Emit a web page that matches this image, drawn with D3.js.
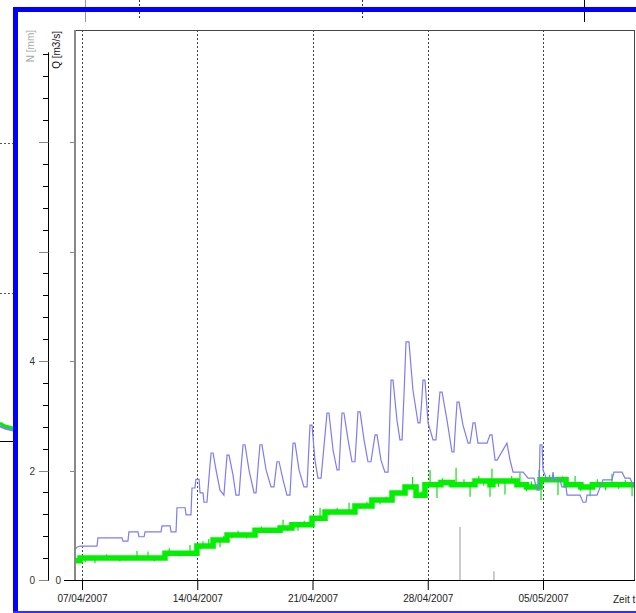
<!DOCTYPE html>
<html>
<head>
<meta charset="utf-8">
<script src="https://cdn.jsdelivr.net/npm/d3@7"></script>
<style>
  body { margin: 0; background: #fff; }
  text { font-family: "Liberation Sans", Arial, sans-serif; }
</style>
</head>
<body>
<script>
// Window size
var WIDTH = 636;
var HEIGHT = 613;

// Q [m3/s] - discharge, [day offset from 07/04/2007, value]
var qSeries = [[-0.43,0.55],[-0.30,0.60],[-0.12,0.62],[0.91,0.62],[0.97,0.77],[2.43,0.77],[2.49,0.71],[2.79,0.71],[2.85,0.88],[3.40,0.88],[3.46,0.79],[3.77,0.79],[3.83,0.88],[4.80,0.88],[4.86,0.99],[5.35,0.99],[5.41,0.88],[5.71,0.88],[5.77,1.32],[6.26,1.32],[6.32,1.19],[6.62,1.19],[6.68,1.68],[6.86,1.68],[6.92,1.84],[7.11,1.84],[7.17,1.59],[7.35,1.59],[7.41,1.42],[7.59,1.42],[7.72,1.90],[7.84,2.32],[7.96,2.32],[8.14,2.01],[8.38,1.64],[8.62,1.55],[8.72,1.95],[8.81,2.28],[8.93,2.28],[9.17,1.92],[9.35,1.55],[9.54,1.55],[9.66,2.05],[9.78,2.47],[9.90,2.47],[10.14,2.01],[10.45,1.59],[10.57,1.59],[10.69,2.05],[10.81,2.47],[10.93,2.47],[11.18,2.01],[11.48,1.70],[11.66,1.70],[11.84,2.16],[11.97,2.16],[12.21,1.83],[12.45,1.55],[12.63,1.55],[12.72,2.05],[12.82,2.50],[12.94,2.50],[13.18,2.01],[13.48,1.70],[13.67,1.70],[13.76,2.30],[13.85,2.83],[13.97,2.83],[14.15,2.19],[14.33,1.86],[14.52,1.86],[14.70,2.45],[14.88,3.05],[15.00,3.05],[15.25,2.37],[15.49,2.01],[15.61,2.01],[15.70,2.55],[15.79,3.05],[15.91,3.05],[16.16,2.56],[16.40,2.16],[16.58,2.16],[16.67,2.60],[16.76,3.07],[16.89,3.07],[17.13,2.56],[17.37,2.16],[17.55,2.16],[17.80,2.65],[17.92,2.65],[18.16,2.19],[18.40,1.97],[18.59,1.97],[18.68,2.80],[18.77,3.65],[18.89,3.65],[19.13,2.92],[19.31,2.56],[19.44,2.56],[19.56,3.40],[19.68,4.35],[19.86,4.35],[20.10,3.47],[20.41,2.87],[20.53,2.87],[20.62,3.20],[20.71,3.65],[20.83,3.65],[21.02,2.87],[21.32,2.56],[21.50,2.56],[21.62,3.00],[21.74,3.43],[21.87,3.43],[22.17,2.92],[22.47,2.34],[22.59,2.34],[22.68,2.80],[22.78,3.25],[22.90,3.25],[23.14,2.83],[23.45,2.50],[23.57,2.50],[23.75,2.87],[23.87,2.87],[24.05,2.50],[24.60,2.50],[24.78,2.65],[24.90,2.65],[25.09,2.19],[25.21,2.19],[25.81,2.50],[26.00,2.19],[26.18,1.97],[26.79,1.97],[27.09,1.86],[27.45,1.86],[27.64,1.64],[27.76,1.64],[27.82,2.47],[27.94,2.47],[28.00,2.01],[28.12,1.92],[28.24,1.83],[28.55,1.83],[28.61,1.97],[28.67,1.83],[29.03,1.83],[29.15,1.70],[29.40,1.70],[29.46,1.55],[30.25,1.55],[30.43,1.42],[30.61,1.42],[30.67,1.55],[31.28,1.55],[31.64,1.83],[32.19,1.83],[32.31,1.97],[32.80,1.97],[32.98,1.86],[33.28,1.86],[33.53,1.70]];

// green series (thick band), [day, value]
var gSeries = [[-0.43,0.35],[-0.12,0.40],[4.74,0.40],[5.04,0.49],[6.98,0.62],[7.96,0.73],[8.81,0.82],[10.51,0.91],[12.03,0.95],[12.75,1.01],[13.97,1.13],[14.76,1.24],[16.58,1.35],[17.61,1.46],[18.83,1.59],[19.62,1.70],[20.29,1.55],[20.83,1.74],[21.80,1.78],[22.50,1.74],[23.87,1.81],[24.78,1.74],[24.96,1.81],[26.42,1.74],[27.00,1.70],[27.82,1.83],[29.40,1.74],[30.30,1.70],[31.00,1.74],[33.53,1.74]];

// short spikes on the green band, [day, low, high]
var gSpikes = [[0.2,0.33,0.40],[0.79,0.31,0.40],[1.5,0.40,0.47],[2.3,0.34,0.40],[3.34,0.40,0.53],[4.01,0.40,0.52],[4.4,0.34,0.40],[5.3,0.49,0.58],[5.9,0.43,0.49],[6.56,0.49,0.64],[7.2,0.56,0.62],[7.35,0.62,0.71],[7.7,0.62,0.75],[8.38,0.60,0.73],[8.6,0.73,0.80],[9.1,0.76,0.82],[9.48,0.82,0.90],[10.0,0.76,0.82],[10.9,0.91,0.98],[11.5,0.86,0.91],[12.21,0.95,1.10],[12.5,0.89,0.95],[13.12,0.90,1.01],[13.5,1.01,1.08],[14.46,1.13,1.32],[15.0,1.18,1.24],[15.5,1.24,1.32],[16.22,1.24,1.41],[16.9,1.30,1.35],[17.3,1.35,1.43],[18.10,1.38,1.46],[18.5,1.46,1.52],[19.56,1.59,1.68],[20.08,1.70,1.88],[20.6,1.55,1.62],[21.14,1.74,2.01],[21.56,1.50,1.74],[21.9,1.78,1.86],[22.3,1.70,1.78],[22.72,1.74,2.05],[23.2,1.74,1.84],[23.57,1.52,1.74],[24.1,1.81,1.90],[24.4,1.72,1.81],[24.78,1.52,1.74],[24.90,1.81,2.03],[25.3,1.70,1.81],[25.69,1.56,1.81],[26.1,1.81,1.90],[26.60,1.74,1.96],[27.0,1.62,1.70],[27.3,1.70,1.80],[27.76,1.83,2.01],[27.88,1.46,1.83],[28.4,1.83,1.92],[28.91,1.55,1.83],[29.2,1.83,1.90],[29.95,1.74,1.90],[30.3,1.62,1.70],[30.86,1.53,1.70],[31.3,1.74,1.84],[31.8,1.64,1.74],[32.19,1.74,1.94],[32.6,1.66,1.74],[33.0,1.74,1.83],[33.41,1.53,1.74]];

// N [mm] - precipitation bars, [day, value]
var nBars = [[22.96,0.97],[25.02,0.16]];

// week ticks on the time axis
var weekTicks = ["07/04/2007","14/04/2007","21/04/2007","28/04/2007","05/05/2007"];
var nTickLabels = [0, 2, 4];

var parseDay = d3.utcParse("%d/%m/%Y");
var BASE = parseDay(weekTicks[0]);
var toDate = function(day) { return new Date(BASE.getTime() + day * 864e5); };

// plot frame
var LEFT = 75, RIGHT = 634, TOP = 30, BOTTOM = 580;

var x = d3.scaleUtc()
    .domain([parseDay(weekTicks[0]), parseDay(weekTicks[4])])
    .range([82, 543]);
var y = d3.scaleLinear().domain([0, 10]).range([BOTTOM, BOTTOM - 547.5]);

var svg = d3.select("body").append("svg")
    .attr("width", WIDTH)
    .attr("height", HEIGHT)
    .style("display", "block");

svg.append("rect").attr("width", WIDTH).attr("height", HEIGHT).attr("fill", "#fff");

// --- bits of the chart lying behind the blue frame ---
var back = svg.append("g");
back.append("line").attr("x1", 85.5).attr("x2", 85.5).attr("y1", 0).attr("y2", 22).attr("stroke", "#999");
back.append("line").attr("x1", 139.5).attr("x2", 139.5).attr("y1", 0).attr("y2", 20).attr("stroke", "#333").attr("stroke-dasharray", "2,2");
back.append("line").attr("x1", 362.5).attr("x2", 362.5).attr("y1", 0).attr("y2", 20).attr("stroke", "#333").attr("stroke-dasharray", "2,2");
back.append("line").attr("x1", 584.5).attr("x2", 584.5).attr("y1", 0).attr("y2", 22).attr("stroke", "#000");
[143.5, 293.5].forEach(function(yy) {
  back.append("line").attr("x1", 0).attr("x2", 13).attr("y1", yy).attr("y2", yy)
    .attr("stroke", "#555").attr("stroke-dasharray", "2,2");
});
back.append("line").attr("x1", 0).attr("x2", 13).attr("y1", 441.5).attr("y2", 441.5).attr("stroke", "#000");
back.append("path").attr("d", "M0,426 L5,428 L9,429 L13,430").attr("fill", "none").attr("stroke", "#8080ff").attr("stroke-width", 3);
back.append("path").attr("d", "M0,423 L5,426 L9,427 L13,428").attr("fill", "none").attr("stroke", "#00ee00").attr("stroke-width", 3);

// blue frame
svg.append("rect").attr("x", 13).attr("y", 7).attr("width", WIDTH - 13).attr("height", 5).attr("fill", "#0000ff");
svg.append("rect").attr("x", 13).attr("y", 7).attr("width", 5).attr("height", HEIGHT - 7).attr("fill", "#0000ff");
svg.append("rect").attr("x", 13).attr("y", 611).attr("width", WIDTH - 13).attr("height", 2).attr("fill", "#3030ff");

// dashed week gridlines
svg.append("g").selectAll("line")
  .data(weekTicks)
  .enter().append("line")
    .attr("x1", function(d) { return Math.round(x(parseDay(d))) + 0.5; })
    .attr("x2", function(d) { return Math.round(x(parseDay(d))) + 0.5; })
    .attr("y1", TOP)
    .attr("y2", BOTTOM)
    .attr("stroke", "#444")
    .attr("stroke-dasharray", "2,2");

// clip data to plot frame
svg.append("clipPath").attr("id", "plot")
  .append("rect").attr("x", LEFT).attr("y", TOP).attr("width", RIGHT - LEFT).attr("height", BOTTOM - TOP);
var plot = svg.append("g").attr("clip-path", "url(#plot)");

// precipitation bars
plot.selectAll(".nbar")
  .data(nBars)
  .enter().append("line")
    .attr("class", "nbar")
    .attr("x1", function(d) { return x(toDate(d[0])); })
    .attr("x2", function(d) { return x(toDate(d[0])); })
    .attr("y1", y(0))
    .attr("y2", function(d) { return y(d[1]); })
    .attr("stroke", "#bbb")
    .attr("stroke-width", 1.5);

// green band
var stepLine = d3.line()
    .x(function(d) { return x(toDate(d[0])); })
    .y(function(d) { return y(d[1]); })
    .curve(d3.curveStepAfter);
plot.append("path")
    .datum(gSeries)
    .attr("d", stepLine)
    .attr("fill", "none")
    .attr("stroke", "#00f000")
    .attr("stroke-width", 5.5);
plot.selectAll(".spike")
  .data(gSpikes)
  .enter().append("line")
    .attr("class", "spike")
    .attr("x1", function(d) { return x(toDate(d[0])); })
    .attr("x2", function(d) { return x(toDate(d[0])); })
    .attr("y1", function(d) { return y(d[1]); })
    .attr("y2", function(d) { return y(d[2]); })
    .attr("stroke", "#11e011")
    .attr("stroke-width", 1.2);

// discharge line
var qLine = d3.line()
    .x(function(d) { return x(toDate(d[0])); })
    .y(function(d) { return y(d[1]); });
plot.append("path")
    .datum(qSeries)
    .attr("d", qLine)
    .attr("fill", "none")
    .attr("stroke", "#7c7cf4")
    .attr("stroke-width", 1.2);

// frame borders
svg.append("line").attr("x1", LEFT).attr("x2", RIGHT + 1).attr("y1", TOP + 0.5).attr("y2", TOP + 0.5).attr("stroke", "#444");
svg.append("line").attr("x1", RIGHT + 0.5).attr("x2", RIGHT + 0.5).attr("y1", TOP).attr("y2", BOTTOM).attr("stroke", "#444");
svg.append("line").attr("x1", LEFT).attr("x2", LEFT).attr("y1", TOP).attr("y2", BOTTOM).attr("stroke", "#888").attr("stroke-width", 2);

// time axis
var xAxis = d3.axisBottom(x)
    .tickValues(weekTicks.map(parseDay))
    .tickFormat(d3.utcFormat("%d/%m/%Y"))
    .tickSize(10)
    .tickSizeOuter(0);
var gx = svg.append("g").attr("transform", "translate(0," + BOTTOM + ")").call(xAxis);
gx.select(".domain").remove();
gx.selectAll("line").attr("stroke", "#000");
gx.selectAll("text").attr("y", 15).attr("font-size", 10).attr("fill", "#222")
  .attr("font-family", "Liberation Sans, Arial, sans-serif");
svg.append("line").attr("x1", 64).attr("x2", RIGHT + 1).attr("y1", BOTTOM + 0.5).attr("y2", BOTTOM + 0.5).attr("stroke", "#000");
svg.append("text").attr("x", 613).attr("y", 603).attr("font-size", 10).attr("fill", "#222").text("Zeit t");

// N axis: minor ticks every 0.4, major every 2
var NAX = 48.5;
var nTicks = d3.range(0, 25).map(function(i) { return i * 0.4; });
svg.append("line").attr("x1", NAX).attr("x2", NAX).attr("y1", y(9.6) - 2).attr("y2", BOTTOM + 1).attr("stroke", "#000");
svg.append("g").selectAll("line")
  .data(nTicks)
  .enter().append("line")
    .attr("x1", function(d, i) { return i % 5 === 0 ? 39 : 43; })
    .attr("x2", NAX)
    .attr("y1", function(d) { return Math.round(y(d)) + 0.5; })
    .attr("y2", function(d) { return Math.round(y(d)) + 0.5; })
    .attr("stroke", function(d, i) { return i % 5 === 0 ? "#888" : "#000"; });
svg.append("g").selectAll("text")
  .data(nTickLabels)
  .enter().append("text")
    .attr("x", 35)
    .attr("y", function(d) { return y(d) + 4; })
    .attr("text-anchor", "end")
    .attr("font-size", 10)
    .attr("fill", "#333")
    .text(function(d) { return d; });

// Q axis: small ticks at major positions
svg.append("g").selectAll("line")
  .data([2, 4, 6, 8])
  .enter().append("line")
    .attr("x1", 70).attr("x2", LEFT)
    .attr("y1", function(d) { return Math.round(y(d)) + 0.5; })
    .attr("y2", function(d) { return Math.round(y(d)) + 0.5; })
    .attr("stroke", "#888");
svg.append("text").attr("x", 61).attr("y", y(0) + 4).attr("text-anchor", "end")
  .attr("font-size", 10).attr("fill", "#333").text("0");

// axis titles
svg.append("text")
    .attr("transform", "translate(34,30) rotate(-90)")
    .attr("text-anchor", "end")
    .attr("font-size", 10)
    .attr("fill", "#a8a8a8")
    .text("N [mm]");
svg.append("text")
    .attr("transform", "translate(60,31) rotate(-90)")
    .attr("text-anchor", "end")
    .attr("font-size", 10)
    .attr("fill", "#111")
    .text("Q [m3/s]");
</script>
</body>
</html>
